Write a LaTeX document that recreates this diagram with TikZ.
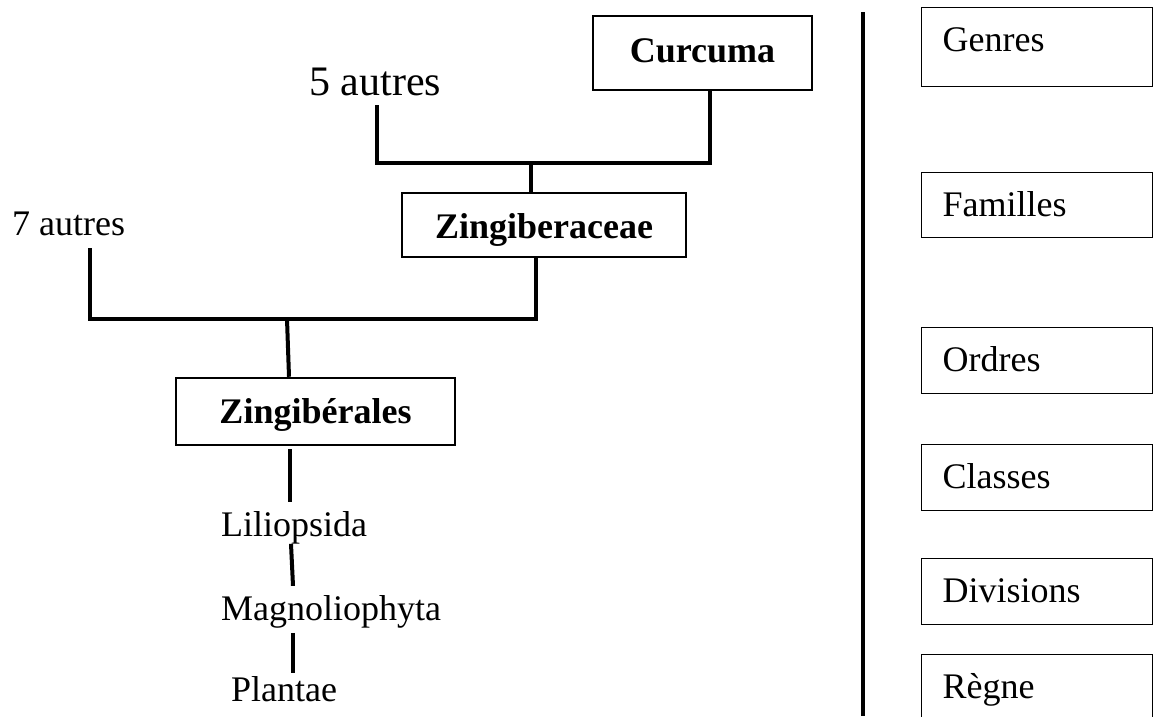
\documentclass[tikz,border=0pt]{standalone}
\usepackage{fontspec}
\setmainfont{Liberation Serif}
\begin{document}
\begin{tikzpicture}[x=1pt,y=-1pt,
  tline/.style={line width=4pt},
  bbox/.style={draw, line width=2.5pt, inner sep=0pt, font=\fontsize{36}{40}\selectfont\bfseries},
  rbox/.style={draw, line width=1.3pt, anchor=north west, text width=189pt, inner xsep=21pt, inner ysep=2pt,
    align=left, text height=26pt, minimum width=231pt, font=\fontsize{36}{40}\selectfont},
  lbl/.style={anchor=base west, inner sep=0pt, font=\fontsize{36}{40}\selectfont}]
\useasboundingbox (0,0) rectangle (1154,716);

% bold taxon boxes
\node[bbox, minimum width=219pt, minimum height=74pt, text height=24pt, text depth=6pt] (curcuma) at (702.5,53) {Curcuma};
\node[bbox, minimum width=284pt, minimum height=64pt, text height=26pt, text depth=0pt] (zingiberaceae) at (544,225) {Zingiberaceae};
\node[bbox, minimum width=279pt, minimum height=67pt, text height=25pt, text depth=2pt] (zingiberales) at (315.5,411.5) {Zingibérales};

% free labels
\node[lbl, font=\fontsize{42}{46}\selectfont] (five) at (309,95) {5 autres};
\node[lbl] (seven) at (12,235) {7 autres};
\node[lbl] (lilio) at (221,536) {Liliopsida};
\node[lbl] (magno) at (221,620) {Magnoliophyta};
\node[lbl] (plantae) at (231,701) {Plantae};

% rank boxes
\node[rbox, minimum height=79pt, text depth=17pt] (genres) at (921,7) {Genres};
\node[rbox, minimum height=65pt, text depth=3pt] (familles) at (921,172) {Familles};
\node[rbox, minimum height=66pt, text depth=4pt] (ordres) at (921,327) {Ordres};
\node[rbox, minimum height=66pt, text depth=4pt] (classes) at (921,444) {Classes};
\node[rbox, minimum height=66pt, text depth=4pt] (divisions) at (921,558) {Divisions};
\node[rbox, minimum height=70pt, text depth=8pt] (regne) at (921,654) {Règne};

% coordinates
\coordinate (cx) at (710,0);
\coordinate (fiveend) at (377,105);
\coordinate (j1) at (531,163);
\coordinate (zx) at (536,0);
\coordinate (sevenend) at (90,248);
\coordinate (j2) at (287,319);
\coordinate (zo) at (289,0);
\coordinate (l1) at (290,0);
\coordinate (l2a) at (291,0);
\coordinate (l2b) at (293,0);
\coordinate (l3) at (293,0);
\coordinate (septop) at (863,12);
\coordinate (sepbot) at (863,716);

% connectors
\draw[tline] (curcuma.south -| cx) |- (j1) -| (fiveend);
\draw[tline] (j1) -- (zingiberaceae.north -| j1);
\draw[tline] (zingiberaceae.south -| zx) |- (j2) -| (sevenend);
\draw[tline] (j2) -- (zingiberales.north -| zo);
\draw[tline] ([yshift=-3pt]zingiberales.south -| l1) -- ([yshift=9pt]lilio.north -| l1);
\draw[tline] (lilio.south -| l2a) -- ([yshift=9pt]magno.north -| l2b);
\draw[tline] ([yshift=-5pt]magno.south -| l3) -- ([yshift=3pt]plantae.north -| l3);

% separator
\draw[line width=4.5pt] (septop) -- (sepbot);
\end{tikzpicture}
\end{document}
